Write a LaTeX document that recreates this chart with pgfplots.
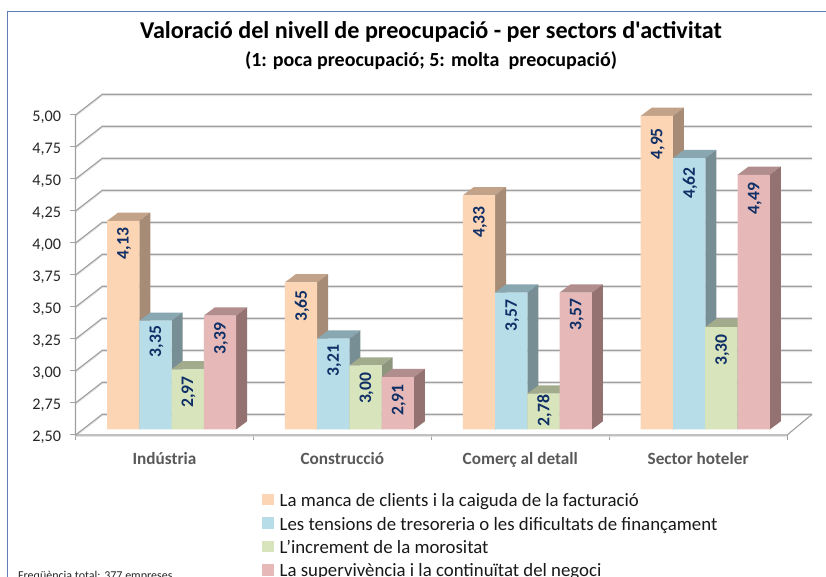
\documentclass[border=0pt]{standalone}
\usepackage{fontspec}
\setmainfont{Carlito}
\newfontfamily\plainf{Carlito}
\usepackage{pgfplots}
\usepackage{pgfplotstable}
\pgfplotsset{compat=1.18}
\definecolor{peach}{HTML}{FCD5B5}\definecolor{peachS}{HTML}{A68B76}\definecolor{peachT}{HTML}{C2A288}
\definecolor{sky}{HTML}{B7DEE8}\definecolor{skyS}{HTML}{788E95}\definecolor{skyT}{HTML}{89A7B1}
\definecolor{lime}{HTML}{D7E4BC}\definecolor{limeS}{HTML}{8D967C}\definecolor{limeT}{HTML}{A2AC8D}
\definecolor{rose}{HTML}{E6B9B8}\definecolor{roseS}{HTML}{947272}\definecolor{roseT}{HTML}{B18E8D}
\definecolor{gridc}{HTML}{A0A0A0}\definecolor{gridl}{HTML}{E2E2E2}
\definecolor{labc}{HTML}{0F2F66}
\pgfplotstableread{
cat a b c d
0 4.13 3.35 2.97 3.39
1 3.65 3.21 3.00 2.91
2 4.33 3.57 2.78 3.57
3 4.95 4.62 3.30 4.49
}\vals
\pgfplotstableread{
x y
0 2.5
0.15 2.6617
4.14 2.6617
nan nan
0 2.75
0.15 2.9117
4.14 2.9117
nan nan
0 3.0
0.15 3.1617
4.14 3.1617
nan nan
0 3.25
0.15 3.4117
4.14 3.4117
nan nan
0 3.5
0.15 3.6617
4.14 3.6617
nan nan
0 3.75
0.15 3.9117
4.14 3.9117
nan nan
0 4.0
0.15 4.1617
4.14 4.1617
nan nan
0 4.25
0.15 4.4117
4.14 4.4117
nan nan
0 4.5
0.15 4.6617
4.14 4.6617
nan nan
0 4.75
0.15 4.9117
4.14 4.9117
nan nan
0 5.0
0.15 5.1617
4.14 5.1617
}\gridtab
\newcommand\faces[5]{%
 \pgfmathsetmacro\xl{#1+(#2-16.125)/177.9}%
 \pgfmathsetmacro\xr{#1+(#2+16.125)/177.9}%
 \pgfmathsetmacro\xrd{\xr+0.0618}%
 \pgfmathsetmacro\xld{\xl+0.0618}%
 \pgfmathsetmacro\yt{#3+0.064}%
 \edef\tmp{\noexpand\addplot[fill=#5,draw=none,forget plot] coordinates {(\xl,#3)(\xr,#3)(\xrd,\yt)(\xld,\yt)} --cycle;
 \noexpand\addplot[fill=#4,draw=none,forget plot] coordinates {(\xr,2.5)(\xrd,2.564)(\xrd,\yt)(\xr,#3)} --cycle;}\tmp}
\newcommand\barlabel[4]{%
 \pgfmathsetmacro\xc{#1+(#2)/177.9}%
 \edef\tmp{\noexpand\node[rotate=90,anchor=east,font=\noexpand\fontsize{17.6}{18}\noexpand\selectfont\noexpand\bfseries,text=labc,inner sep=0pt] at ([xshift=1pt,yshift=-#4pt]axis cs:\xc,#3) {\noexpand\numlab{#3}};}\tmp}
\newcommand\numlab[1]{\pgfmathprintnumber[fixed,fixed zerofill,precision=2,use comma,assume math mode=true]{#1}}
\begin{document}
\begin{tikzpicture}[x=1pt,y=1pt]
\path[use as bounding box,clip] (0,0) rectangle (826,577);
\fill[white] (0,0) rectangle (826,577);
\draw[color={rgb,255:red,95;green,125;blue,180},line width=1pt] (7.5,-5) rectangle (835,565.5);
\node[font=\plainf\fontsize{24.15}{25}\selectfont\bfseries,text=black] at (431,545) {Valoració del nivell de preocupació - per sectors d'activitat};
\node[font=\fontsize{20}{20}\selectfont\bfseries,text=black] at (431,516.5) {(1: poca preocupació; 5: molta\ \ preocupació)};
\node[anchor=base west,font=\fontsize{12}{12}\selectfont,text=black!85,inner sep=0pt] at (18,-3) {Freqüència total: 377 empreses};
\begin{axis}[at={(75.5pt,142pt)},anchor=south west,scale only axis,width=736.5pt,height=340.5pt,
 xmin=0,xmax=4.14,ymin=2.5,ymax=5.1602,clip=false,
 axis x line*=bottom,axis y line*=left,axis line style={draw=none},
 xtick={0,1,2,3,4},x tick label as interval,
 xticklabels={Indústria,Construcció,Comerç al detall,Sector hoteler},
 xticklabel style={font=\fontsize{17.2}{17}\selectfont\bfseries,text=black!65,yshift=-9pt},
 ytick={2.5,2.75,3,3.25,3.5,3.75,4,4.25,4.5,4.75,5},
 yticklabel style={font=\fontsize{16.2}{17}\selectfont,text=black!85,xshift=-6pt,yshift=-2.5pt,/pgf/number format/.cd,fixed,fixed zerofill,precision=2,use comma,assume math mode=true},
 tick style={gridc,line width=1pt},major tick length=5pt,tick align=outside,minor tick num=0]
\addplot[gridl,line width=1.2pt,forget plot,unbounded coords=jump,yshift=-1.2pt] table[x=x,y=y] {\gridtab};
\addplot[gridc,line width=1.1pt,forget plot,unbounded coords=jump] table[x=x,y=y] {\gridtab};
\addplot[gridl,line width=1.2pt,forget plot,yshift=-1.2pt] coordinates {(0,2.5)(4,2.5)};
\addplot[gridc,line width=1.1pt,forget plot] coordinates {(0,5)(0,2.5)(4,2.5)(4.14,2.6617)};
\end{axis}
\begin{axis}[at={(82.6pt,147.5pt)},anchor=south west,scale only axis,width=729.4pt,height=332.8pt,
 xmin=-0.5,xmax=3.6,ymin=2.5,ymax=5.1,hide axis,
 legend style={at={(0.246,-0.186)},anchor=north west,draw=none,fill=none,inner sep=0pt,
  row sep=0pt,nodes={text height=13pt,text depth=6.4pt,inner ysep=2pt,inner xsep=1.5pt,font=\fontsize{18.8}{19}\selectfont,text=black!90}},
 legend cell align=left,
 legend image code/.code={\fill[#1,draw=none] (0pt,-2pt) rectangle (11.5pt,9.5pt);\path (16pt,0pt);},
 legend image post style={}]
\faces{0}{-48.4}{4.13}{peachS}{peachT}\faces{1}{-48.4}{3.65}{peachS}{peachT}\faces{2}{-48.4}{4.33}{peachS}{peachT}\faces{3}{-48.4}{4.95}{peachS}{peachT}
\addplot[ybar,bar width=32.25pt,bar shift=-48.4pt,fill=peach,draw=none] table[x=cat,y=a] {\vals};
\addlegendentry{La manca de clients i la caiguda de la facturació}
\faces{0}{-16.1}{3.35}{skyS}{skyT}\faces{1}{-16.1}{3.21}{skyS}{skyT}\faces{2}{-16.1}{3.57}{skyS}{skyT}\faces{3}{-16.1}{4.62}{skyS}{skyT}
\addplot[ybar,bar width=32.25pt,bar shift=-16.1pt,fill=sky,draw=none] table[x=cat,y=b] {\vals};
\addlegendentry{Les tensions de tresoreria o les dificultats de finançament}
\faces{0}{16.1}{2.97}{limeS}{limeT}\faces{1}{16.1}{3.00}{limeS}{limeT}\faces{2}{16.1}{2.78}{limeS}{limeT}\faces{3}{16.1}{3.30}{limeS}{limeT}
\addplot[ybar,bar width=32.25pt,bar shift=16.1pt,fill=lime,draw=none] table[x=cat,y=c] {\vals};
\addlegendentry{L’increment de la morositat}
\faces{0}{48.4}{3.39}{roseS}{roseT}\faces{1}{48.4}{2.91}{roseS}{roseT}\faces{2}{48.4}{3.57}{roseS}{roseT}\faces{3}{48.4}{4.49}{roseS}{roseT}
\addplot[ybar,bar width=32.25pt,bar shift=48.4pt,fill=rose,draw=none] table[x=cat,y=d] {\vals};
\addlegendentry{La supervivència i la continuïtat del negoci}
\barlabel{0}{-48.4}{4.13}{7}\barlabel{1}{-48.4}{3.65}{8}\barlabel{2}{-48.4}{4.33}{11}\barlabel{3}{-48.4}{4.95}{12}
\barlabel{0}{-16.1}{3.35}{5}\barlabel{1}{-16.1}{3.21}{6}\barlabel{2}{-16.1}{3.57}{7}\barlabel{3}{-16.1}{4.62}{9}
\barlabel{0}{16.1}{2.97}{7}\barlabel{1}{16.1}{3.00}{7}\barlabel{2}{16.1}{2.78}{1}\barlabel{3}{16.1}{3.30}{7}
\barlabel{0}{48.4}{3.39}{7}\barlabel{1}{48.4}{2.91}{7}\barlabel{2}{48.4}{3.57}{6}\barlabel{3}{48.4}{4.49}{8}
\end{axis}
\end{tikzpicture}
\end{document}
